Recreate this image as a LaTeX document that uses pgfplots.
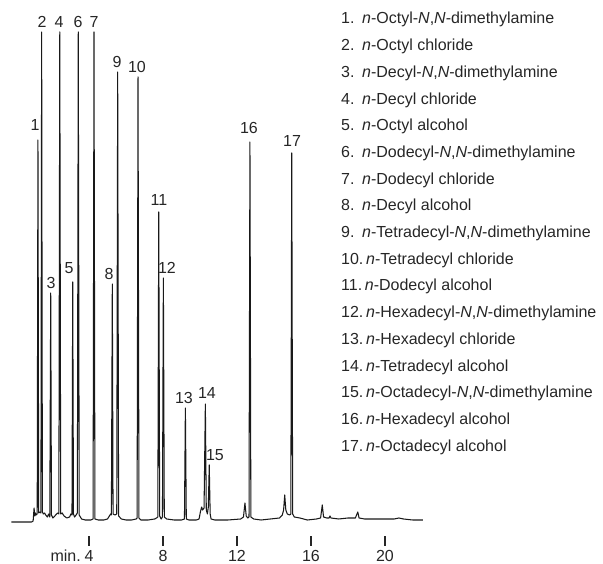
\documentclass[border=0pt]{standalone}
\usepackage{fontspec}
\setmainfont{Liberation Sans}
\usepackage{pgfplots}
\pgfplotsset{compat=1.18}
\begin{document}
\begin{tikzpicture}
\fontsize{16}{19}\selectfont
\path[use as bounding box] (0pt,0pt) rectangle (603pt,564pt);
\begin{axis}[
  at={(11.5pt,18pt)}, anchor=south west,
  scale only axis, width=411.4pt, height=516pt,
  xmin=-0.19, xmax=22.05, ymin=-24, ymax=492,
  axis x line=bottom, axis y line=none,
  x axis line style={draw=none, -},
  xtick={4,8,12,16,20},
  tick align=inside, major tick length=10pt,
  tick style={line width=1.6pt, black!85},
  xticklabel style={font=\fontsize{16}{19}\selectfont, text=black!85, inner sep=1pt, yshift=-3pt},
  /pgf/number format/assume math mode=true,
  clip=false,
]
\addplot[black!90, line width=1.05pt, line join=round] coordinates {
(-0.19,0) (0.9,0) (0.98,1) (1.03,14) (1.07,6) (1.10,9) (1.14,7) (1.20,8) (1.24,382) (1.28,9) (1.33,10) (1.40,9) (1.44,490) (1.48,10) (1.53,8) (1.60,9) (1.66,7) (1.75,5) (1.82,8) (1.88,5) (1.93,229) (1.97,7) (2.05,4) (2.20,7) (2.30,9) (2.37,8) (2.42,490) (2.47,8) (2.55,9) (2.65,6) (2.80,4) (2.95,5) (3.02,8) (3.08,7) (3.12,240) (3.16,8) (3.22,5) (3.30,7) (3.37,9) (3.42,490) (3.47,7) (3.60,3) (3.80,2) (4.10,2) (4.22,3) (4.27,490) (4.32,3) (4.5,2) (4.8,2) (5.0,3) (5.10,6) (5.17,8) (5.21,7) (5.26,238) (5.30,8) (5.40,7) (5.50,8) (5.55,450) (5.60,6) (5.75,3) (6.0,2) (6.3,2) (6.55,3) (6.60,4) (6.65,445) (6.70,4) (6.80,2) (7.2,2) (7.55,3) (7.65,4) (7.72,5) (7.77,310) (7.82,6) (7.90,3) (7.97,5) (8.02,244) (8.07,5) (8.20,3) (8.6,2) (9.0,2) (9.16,3) (9.21,114) (9.26,3) (9.40,2) (9.8,2) (9.95,3) (10.02,10) (10.09,15) (10.14,12) (10.22,14) (10.29,118) (10.34,12) (10.40,8) (10.45,15) (10.50,57) (10.55,8) (10.60,3) (10.8,2) (11.5,2) (12.2,3) (12.35,5) (12.43,19) (12.50,6) (12.58,4) (12.65,5) (12.70,380) (12.75,5) (12.9,3) (13.3,2) (13.8,3) (14.3,4) (14.45,7) (14.52,12) (14.58,27) (14.64,12) (14.72,8) (14.85,7) (14.91,8) (14.96,369) (15.01,8) (15.1,5) (15.4,4) (15.8,2) (16.3,3) (16.52,4) (16.61,17) (16.68,5) (16.85,4) (16.98,4) (17.03,6) (17.08,4) (17.5,3) (18.0,4) (18.4,4) (18.53,10) (18.6,4) (18.9,3) (19.5,3) (20.0,3) (20.5,3) (20.75,4) (21.0,3) (21.5,2) (22.05,2)
};
\end{axis}
\begin{scope}[x=1pt, y=-1pt, yshift=564pt, text=black!85, inner sep=0pt]
% peak labels
\node at (35,125) {1};
\node at (42,22) {2};
\node at (51,283) {3};
\node at (59,22) {4};
\node at (69,268) {5};
\node at (78,22) {6};
\node at (94,22) {7};
\node at (109,274) {8};
\node at (117,62) {9};
\node at (137,67) {10};
\node at (159,200) {11};
\node at (167,268) {12};
\node at (184,398) {13};
\node at (207,393) {14};
\node at (215,455) {15};
\node at (249,128) {16};
\node at (292,141) {17};
% x unit label
\node[anchor=base east] at (81,562) {min.};
% legend
\node[anchor=base west] at (341,24.0) {1.};
\node[anchor=base west] at (362,24.0) {\textit{n}-Octyl-\textit{N},\textit{N}-dimethylamine};
\node[anchor=base west] at (341,50.7) {2.};
\node[anchor=base west] at (362,50.7) {\textit{n}-Octyl chloride};
\node[anchor=base west] at (341,77.4) {3.};
\node[anchor=base west] at (362,77.4) {\textit{n}-Decyl-\textit{N},\textit{N}-dimethylamine};
\node[anchor=base west] at (341,104.1) {4.};
\node[anchor=base west] at (362,104.1) {\textit{n}-Decyl chloride};
\node[anchor=base west] at (341,130.8) {5.};
\node[anchor=base west] at (362,130.8) {\textit{n}-Octyl alcohol};
\node[anchor=base west] at (341,157.5) {6.};
\node[anchor=base west] at (362,157.5) {\textit{n}-Dodecyl-\textit{N},\textit{N}-dimethylamine};
\node[anchor=base west] at (341,184.2) {7.};
\node[anchor=base west] at (362,184.2) {\textit{n}-Dodecyl chloride};
\node[anchor=base west] at (341,210.9) {8.};
\node[anchor=base west] at (362,210.9) {\textit{n}-Decyl alcohol};
\node[anchor=base west] at (341,237.6) {9.};
\node[anchor=base west] at (362,237.6) {\textit{n}-Tetradecyl-\textit{N},\textit{N}-dimethylamine};
\node[anchor=base west] at (341,264.3) {10.\,\textit{n}-Tetradecyl chloride};
\node[anchor=base west] at (341,291.0) {11.\,\textit{n}-Dodecyl alcohol};
\node[anchor=base west] at (341,317.7) {12.\,\textit{n}-Hexadecyl-\textit{N},\textit{N}-dimethylamine};
\node[anchor=base west] at (341,344.4) {13.\,\textit{n}-Hexadecyl chloride};
\node[anchor=base west] at (341,371.1) {14.\,\textit{n}-Tetradecyl alcohol};
\node[anchor=base west] at (341,397.8) {15.\,\textit{n}-Octadecyl-\textit{N},\textit{N}-dimethylamine};
\node[anchor=base west] at (341,424.5) {16.\,\textit{n}-Hexadecyl alcohol};
\node[anchor=base west] at (341,451.2) {17.\,\textit{n}-Octadecyl alcohol};
\end{scope}
\end{tikzpicture}
\end{document}
